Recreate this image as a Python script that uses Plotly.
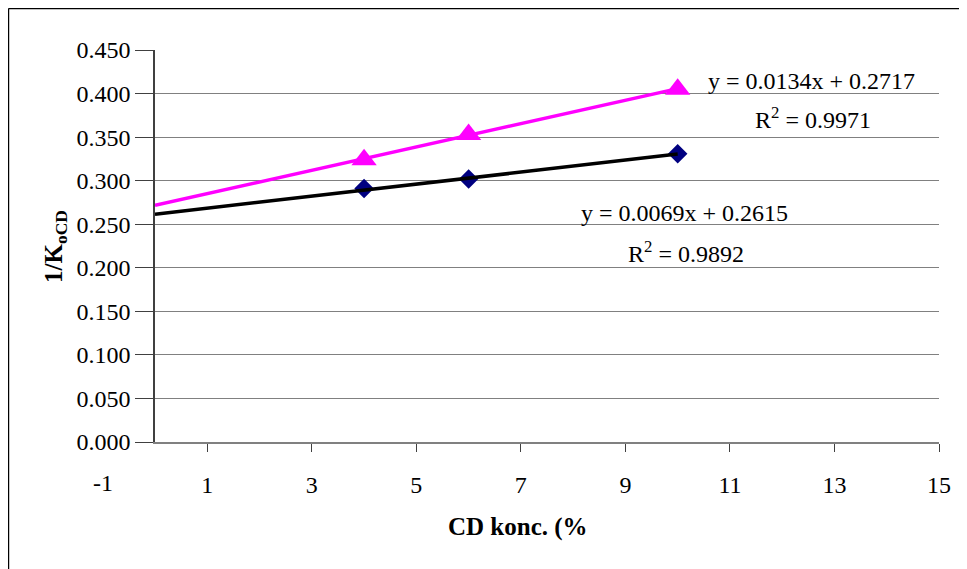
import plotly.graph_objects as go

# Data
cd_conc = [4, 6, 10]
series1_y = [0.291, 0.302, 0.331]   # diamonds (navy)
series2_y = [0.324, 0.353, 0.405]   # triangles (magenta)
trend1 = {"slope": 0.0069, "intercept": 0.2615, "r2": 0.9892}
trend2 = {"slope": 0.0134, "intercept": 0.2717, "r2": 0.9971}
trend_x = [0, 10]
y_ticks = [0.0, 0.05, 0.10, 0.15, 0.20, 0.25, 0.30, 0.35, 0.40, 0.45]
x_ticks = [1, 3, 5, 7, 9, 11, 13, 15]

FONT = "Liberation Serif, Times New Roman, serif"

fig = go.Figure()

fig.add_trace(go.Scatter(x=cd_conc, y=series1_y, mode="markers",
                         marker=dict(symbol="diamond", size=15, color="#000080",
                                     line=dict(width=0)),
                         showlegend=False, cliponaxis=False))
fig.add_trace(go.Scatter(x=cd_conc, y=series2_y, mode="markers",
                         marker=dict(symbol="triangle-up", size=22, color="#FF00FF",
                                     line=dict(width=0)),
                         showlegend=False, cliponaxis=False))

for tr, col in ((trend1, "#000000"), (trend2, "#FF00FF")):
    ty = [tr["slope"] * x + tr["intercept"] for x in trend_x]
    fig.add_trace(go.Scatter(x=trend_x, y=ty, mode="lines",
                             line=dict(color=col, width=3.5),
                             showlegend=False, cliponaxis=False))

# page body has an 8px margin, so the figure is sized/offset to compensate
fig.update_layout(
    width=959, height=561,
    margin=dict(l=147, r=28, t=42, b=127),
    paper_bgcolor="white", plot_bgcolor="white",
    font=dict(family=FONT, size=24, color="black"),
    xaxis=dict(range=[0, 15], tickvals=x_ticks, ticktext=[str(v) for v in x_ticks],
               showgrid=False, zeroline=False, showline=True, linecolor="#808080",
               linewidth=1.5, ticks="outside", ticklen=8, tickcolor="#404040",
               tickwidth=1, ticklabelstandoff=12,
               tickfont=dict(family=FONT, size=24)),
    yaxis=dict(range=[0, 0.45], tickvals=y_ticks, tickformat=".3f",
               showgrid=True, gridcolor="#808080", gridwidth=1.3,
               zeroline=False, showline=True, linecolor="#404040", linewidth=1.5,
               ticks="outside", ticklen=18, tickcolor="#404040", tickwidth=1,
               tickfont=dict(family=FONT, size=24)),
)

def eq_text(tr):
    return f"y = {tr['slope']:.4f}x + {tr['intercept']:.4f}"

def r2_text(tr):
    return f"R<sup>2</sup> = {tr['r2']:.4f}"

annos = [
    dict(x=12.57, y=0.4145, text=eq_text(trend2)),
    dict(x=12.59, y=0.372, text=r2_text(trend2)),
    dict(x=10.14, y=0.2629, text=eq_text(trend1)),
    dict(x=10.16, y=0.218, text=r2_text(trend1)),
]
for a in annos:
    fig.add_annotation(x=a["x"], y=a["y"], xref="x", yref="y", text=a["text"],
                       showarrow=False, font=dict(family=FONT, size=24, color="black"),
                       xanchor="center", yanchor="middle")

# "-1" label left of the value axis
fig.add_annotation(x=-0.0663, y=-0.1046, xref="paper", yref="paper", text="-1",
                   showarrow=False, font=dict(family=FONT, size=24),
                   xanchor="center", yanchor="middle")

# Axis titles
fig.add_annotation(x=0.463, y=-0.2168, xref="paper", yref="paper", text="<b>CD konc. (%</b>",
                   showarrow=False, font=dict(family=FONT, size=25),
                   xanchor="center", yanchor="middle")
fig.add_annotation(x=-0.1276, y=0.5, xref="paper", yref="paper",
                   text="<b>1/K<sub>oCD</sub></b>", textangle=-90, showarrow=False,
                   font=dict(family=FONT, size=25), xanchor="center", yanchor="middle")

# Outer chart border (left and top)
fig.add_shape(type="line", xref="paper", yref="paper", x0=-0.1869, x1=-0.1869,
              y0=1.1059, y1=-0.4, line=dict(color="black", width=1.5))
fig.add_shape(type="line", xref="paper", yref="paper", x0=-0.1869, x1=1.1,
              y0=1.1059, y1=1.1059, line=dict(color="black", width=1.5))

fig.write_html("out.html")
